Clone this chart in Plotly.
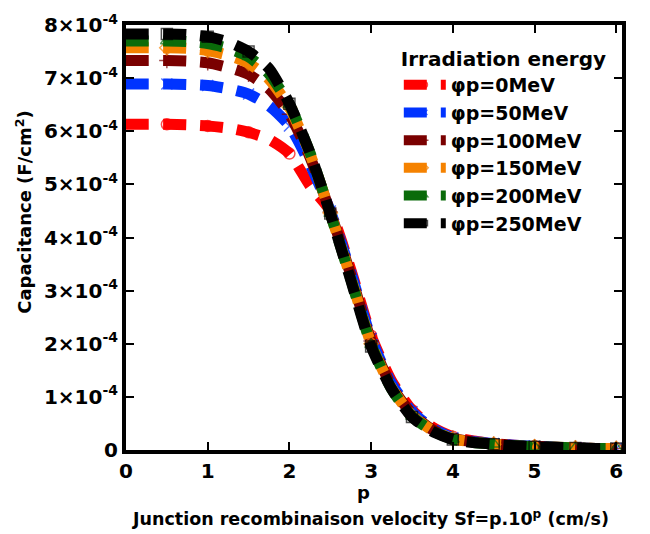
import numpy as np
import plotly.graph_objects as go

# p values (x axis)
p = [0, 0.25, 0.5, 0.75, 1.0, 1.25, 1.5, 1.75, 2.0, 2.25, 2.5, 2.75, 3.0,
     3.25, 3.5, 3.75, 4.0, 4.25, 4.5, 4.75, 5.0, 5.25, 5.5, 5.75, 6.0]

# Capacitance values in units of 1e-4 F/cm^2
c_0MeV = [6.13, 6.13, 6.13, 6.12, 6.10, 6.06, 5.98, 5.85, 5.58, 4.98, 4.50, 3.40, 2.15,
          1.30, 0.75, 0.43, 0.25, 0.17, 0.12, 0.09, 0.07, 0.05, 0.04, 0.03, 0.03]
c_50MeV = [6.89, 6.89, 6.89, 6.88, 6.86, 6.80, 6.70, 6.48, 6.10, 5.38, 4.50, 3.35, 2.10,
           1.25, 0.72, 0.41, 0.23, 0.16, 0.12, 0.09, 0.07, 0.05, 0.04, 0.03, 0.03]
c_100MeV = [7.33, 7.33, 7.33, 7.32, 7.29, 7.20, 7.07, 6.80, 6.32, 5.52, 4.48, 3.30, 2.05,
            1.20, 0.68, 0.38, 0.22, 0.15, 0.11, 0.08, 0.06, 0.05, 0.04, 0.03, 0.03]
c_150MeV = [7.57, 7.57, 7.57, 7.56, 7.52, 7.43, 7.28, 6.98, 6.45, 5.58, 4.46, 3.25, 2.00,
            1.17, 0.65, 0.37, 0.21, 0.15, 0.11, 0.08, 0.06, 0.05, 0.04, 0.03, 0.03]
c_200MeV = [7.70, 7.70, 7.70, 7.69, 7.65, 7.56, 7.40, 7.08, 6.50, 5.60, 4.45, 3.22, 1.98,
            1.15, 0.63, 0.36, 0.20, 0.14, 0.11, 0.08, 0.06, 0.05, 0.04, 0.03, 0.03]
c_250MeV = [7.83, 7.83, 7.83, 7.82, 7.78, 7.68, 7.50, 7.18, 6.52, 5.60, 4.45, 3.20, 1.95,
            1.15, 0.62, 0.35, 0.20, 0.14, 0.11, 0.08, 0.06, 0.05, 0.04, 0.03, 0.03]

series_names = ["φp=0MeV", "φp=50MeV", "φp=100MeV", "φp=150MeV", "φp=200MeV", "φp=250MeV"]
series_values = [c_0MeV, c_50MeV, c_100MeV, c_150MeV, c_200MeV, c_250MeV]
colors = ["#ff0000", "#0033ff", "#7a0000", "#f58200", "#0a6b0a", "#000000"]
symbols = ["circle-open", "x-thin-open", "cross-thin-open", "diamond-open",
           "triangle-up-open", "square-open"]

y_tickvals = [0, 1, 2, 3, 4, 5, 6, 7, 8]
y_ticktext = ["0"] + [f"{v}×10<sup>-4</sup>" for v in y_tickvals[1:]]
x_tickvals = [0, 1, 2, 3, 4, 5, 6]

FONT = "DejaVu Sans, sans-serif"

fig = go.Figure()
msize = [0 if (v == 0 or (v * 2) % 1 != 0) else 11 for v in p]
for name, vals, col, sym in zip(series_names, series_values, colors, symbols):
    fig.add_trace(go.Scatter(
        x=p, y=np.array(vals) * 1e-4, name=name, mode="lines+markers",
        line=dict(color=col, width=11, dash="23px,14px", shape="spline", smoothing=0.6),
        marker=dict(symbol=sym, size=msize, color=col, line=dict(color=col, width=1.5)),
    ))

axis_common = dict(
    showline=True, linewidth=4, linecolor="black", mirror="ticks",
    ticks="inside", ticklen=8, tickwidth=1.5, tickcolor="black",
    showgrid=False, zeroline=False, automargin=False,
    tickfont=dict(family=FONT, size=20, color="black", weight="bold"),
)

fig.update_layout(
    width=642, height=526,
    margin=dict(l=118, r=28, t=17, b=84),
    paper_bgcolor="white", plot_bgcolor="white",
    xaxis=dict(range=[0, 6.07], tickvals=x_tickvals, **axis_common),
    yaxis=dict(range=[0, 8e-4], tickvals=[v * 1e-4 for v in y_tickvals],
               ticktext=y_ticktext, **axis_common),
    legend=dict(
        x=0.55, y=0.965, xanchor="left", yanchor="top",
        bgcolor="rgba(0,0,0,0)",
        font=dict(family=FONT, size=19, color="black", weight="bold"),
        title=dict(text="Irradiation energy", side="top",
                   font=dict(family=FONT, size=20, color="black", weight="bold")),
        tracegroupgap=0, itemwidth=42,
    ),
    showlegend=True,
)

fig.add_annotation(text="Capacitance (F/cm<sup>2</sup>)", textangle=-90,
                   xref="paper", yref="paper", x=-0.206, y=0.56,
                   xanchor="center", yanchor="middle",
                   showarrow=False, font=dict(family=FONT, size=18, color="black", weight="bold"))
fig.add_annotation(text="p", xref="paper", yref="paper", x=0.478, y=-0.099,
                   xanchor="center", yanchor="middle",
                   showarrow=False, font=dict(family=FONT, size=18, color="black", weight="bold"))
fig.add_annotation(text="Junction recombinaison velocity Sf=p.10<sup>p</sup> (cm/s)",
                   xref="paper", yref="paper", x=0.492, y=-0.16,
                   xanchor="center", yanchor="middle",
                   showarrow=False, font=dict(family=FONT, size=17.5, color="black", weight="bold"))

fig.write_html("out.html")
